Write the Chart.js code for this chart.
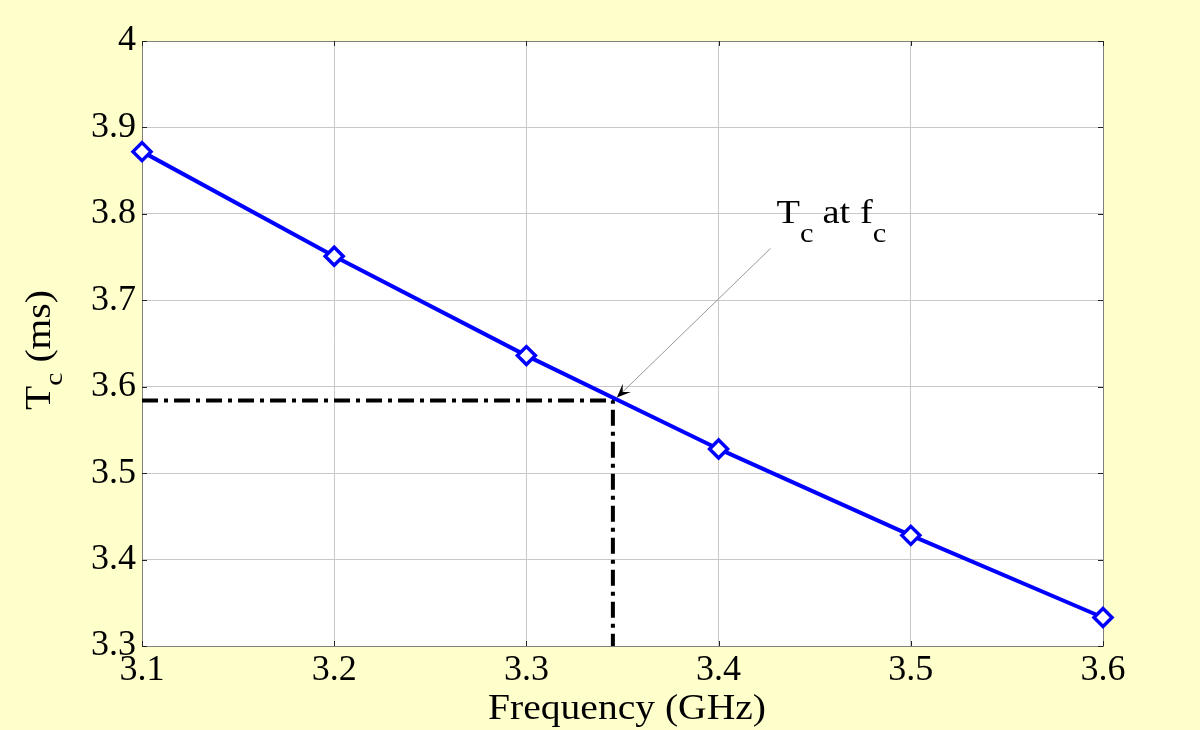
<!DOCTYPE html>
<html>
<head>
<meta charset="utf-8">
<script src="https://cdn.jsdelivr.net/npm/chart.js@4"></script>
<style>
  html, body { margin: 0; padding: 0; background: #ffffcc; }
  #wrap { width: 1200px; height: 730px; }
</style>
</head>
<body>
<div id="wrap"><canvas id="chart"></canvas></div>
<script>
// frequency (GHz) and Tc (ms)
const freq = [3.1, 3.2, 3.3, 3.4, 3.5, 3.6];
const tc = [3.872, 3.751, 3.636, 3.528, 3.428, 3.333];
const xTicks = ['3.1', '3.2', '3.3', '3.4', '3.5', '3.6'];
const yTicks = ['3.3', '3.4', '3.5', '3.6', '3.7', '3.8', '3.9', '4'];
// operating point Tc at fc
const fc = 3.345;
const tcAtFc = 3.584;
const labelAt = { x: 3.427, y: 3.760 };

const serif = '"Liberation Serif", "Times New Roman", serif';
const stretch = 1.13; // the original text looks a bit wide

// draws a run of [text, size, dy] pieces left to right, stretched horizontally
function drawRun(ctx, parts, x, y) {
    ctx.save();
    ctx.translate(x, y);
    ctx.scale(stretch, 1);
    let cx = 0;
    parts.forEach(([txt, size, dy, gap]) => {
        ctx.font = size + 'px ' + serif;
        ctx.fillText(txt, cx, dy || 0);
        cx += ctx.measureText(txt).width + (gap || 0);
    });
    ctx.restore();
    return cx * stretch;
}

function runWidth(ctx, parts) {
    let w = 0;
    parts.forEach(([txt, size, dy, gap]) => {
        ctx.font = size + 'px ' + serif;
        w += ctx.measureText(txt).width + (gap || 0);
    });
    return w * stretch;
}

// yellow page behind everything, white plot area
const background = {
    id: 'background',
    beforeDraw(c) {
        const { ctx, chartArea: a } = c;
        ctx.save();
        ctx.fillStyle = '#ffffcc';
        ctx.fillRect(0, 0, c.width, c.height);
        ctx.fillStyle = '#ffffff';
        ctx.fillRect(a.left, a.top, a.right - a.left, a.bottom - a.top);
        ctx.restore();
    }
};

// small matlab style ticks pointing inwards on all four sides
const innerTicks = {
    id: 'innerTicks',
    afterDatasetsDraw(c) {
        const { ctx, chartArea: a, scales } = c;
        ctx.save();
        ctx.strokeStyle = '#222';
        ctx.lineWidth = 1;
        ctx.beginPath();
        scales.x.ticks.forEach((t) => {
            const px = Math.round(scales.x.getPixelForValue(t.value)) + 0.5;
            ctx.moveTo(px, a.bottom); ctx.lineTo(px, a.bottom - 5);
            ctx.moveTo(px, a.top); ctx.lineTo(px, a.top + 5);
        });
        scales.y.ticks.forEach((t) => {
            const py = Math.round(scales.y.getPixelForValue(t.value)) + 0.5;
            ctx.moveTo(a.left, py); ctx.lineTo(a.left + 5, py);
            ctx.moveTo(a.right, py); ctx.lineTo(a.right - 5, py);
        });
        ctx.stroke();
        ctx.restore();
    }
};

// axis titles (with subscript) and the "Tc at fc" arrow
const labels = {
    id: 'labels',
    afterDraw(c) {
        const { ctx, scales } = c;
        ctx.save();
        ctx.fillStyle = '#000';
        ctx.textAlign = 'left';
        ctx.textBaseline = 'alphabetic';

        // x title
        const xt = [['Frequency (GHz)', 35]];
        drawRun(ctx, xt, 627 - runWidth(ctx, xt) / 2, 719);

        // y title, rotated
        const yt = [['T', 35], ['c', 26, 12, 9], ['(ms)', 35]];
        ctx.save();
        ctx.translate(50, 350);
        ctx.rotate(-Math.PI / 2);
        drawRun(ctx, yt, -runWidth(ctx, yt) / 2, 0);
        ctx.restore();

        // arrow
        const tx = scales.x.getPixelForValue(fc) + 4;
        const ty = scales.y.getPixelForValue(tcAtFc) - 3;
        const sx = scales.x.getPixelForValue(labelAt.x);
        const sy = scales.y.getPixelForValue(labelAt.y);
        ctx.strokeStyle = '#999';
        ctx.lineWidth = 1;
        ctx.beginPath();
        ctx.moveTo(sx, sy);
        ctx.lineTo(tx, ty);
        ctx.stroke();
        const ang = Math.atan2(ty - sy, tx - sx);
        ctx.fillStyle = '#000';
        ctx.beginPath();
        ctx.moveTo(tx, ty);
        ctx.lineTo(tx - 15 * Math.cos(ang - 0.4), ty - 15 * Math.sin(ang - 0.4));
        ctx.lineTo(tx - 8 * Math.cos(ang), ty - 8 * Math.sin(ang));
        ctx.lineTo(tx - 15 * Math.cos(ang + 0.4), ty - 15 * Math.sin(ang + 0.4));
        ctx.closePath();
        ctx.fill();

        // annotation text
        drawRun(ctx, [['T', 34], ['c', 27, 19, 8], ['at f', 34], ['c', 27, 19]], sx + 6, sy - 25);
        ctx.restore();
    }
};

new Chart(document.getElementById('chart'), {
    type: 'line',
    data: {
        datasets: [
            {
                data: freq.map((f, i) => ({ x: f, y: tc[i] })),
                borderColor: '#0000ff',
                borderWidth: 4,
                pointStyle: 'rectRot',
                pointRadius: 9,
                pointBorderWidth: 3.5,
                pointBorderColor: '#0000ff',
                pointBackgroundColor: '#ffffff',
                clip: false,
                order: 0
            },
            {
                data: [
                    { x: freq[0], y: tcAtFc },
                    { x: fc, y: tcAtFc },
                    { x: fc, y: 3.3 }
                ],
                borderColor: '#000',
                borderWidth: 4,
                borderDash: [16, 6, 4, 6],
                pointRadius: 0,
                order: 1
            }
        ]
    },
    options: {
        responsive: true,
        maintainAspectRatio: false,
        animation: false,
        layout: { padding: { top: 41, right: 97, left: 0, bottom: 0 } },
        plugins: { legend: { display: false }, tooltip: { enabled: false } },
        scales: {
            x: {
                type: 'linear',
                min: 3.1,
                max: 3.6,
                afterFit(s) { s.height = 84; },
                ticks: {
                    stepSize: 0.1,
                    color: '#000',
                    padding: 3,
                    font: { family: serif, size: 36 },
                    callback: (v, i) => xTicks[i]
                },
                grid: { color: '#c8c8c8', drawTicks: false },
                border: { color: '#808080' }
            },
            y: {
                type: 'linear',
                min: 3.3,
                max: 4,
                afterFit(s) { s.width = 142; },
                ticks: {
                    stepSize: 0.1,
                    color: '#000',
                    padding: 6,
                    font: { family: serif, size: 36 },
                    callback: (v, i) => yTicks[i]
                },
                grid: { color: '#c8c8c8', drawTicks: false },
                border: { color: '#808080' }
            },
            x2: {
                type: 'linear', position: 'top', min: 3.1, max: 3.6,
                display: true, ticks: { display: false }, grid: { display: false },
                border: { color: '#808080' }, afterFit(s) { s.height = 0; }
            },
            y2: {
                type: 'linear', position: 'right', min: 3.3, max: 4,
                display: true, ticks: { display: false }, grid: { display: false },
                border: { color: '#808080' }, afterFit(s) { s.width = 0; }
            }
        }
    },
    plugins: [background, innerTicks, labels]
});
</script>
</body>
</html>
